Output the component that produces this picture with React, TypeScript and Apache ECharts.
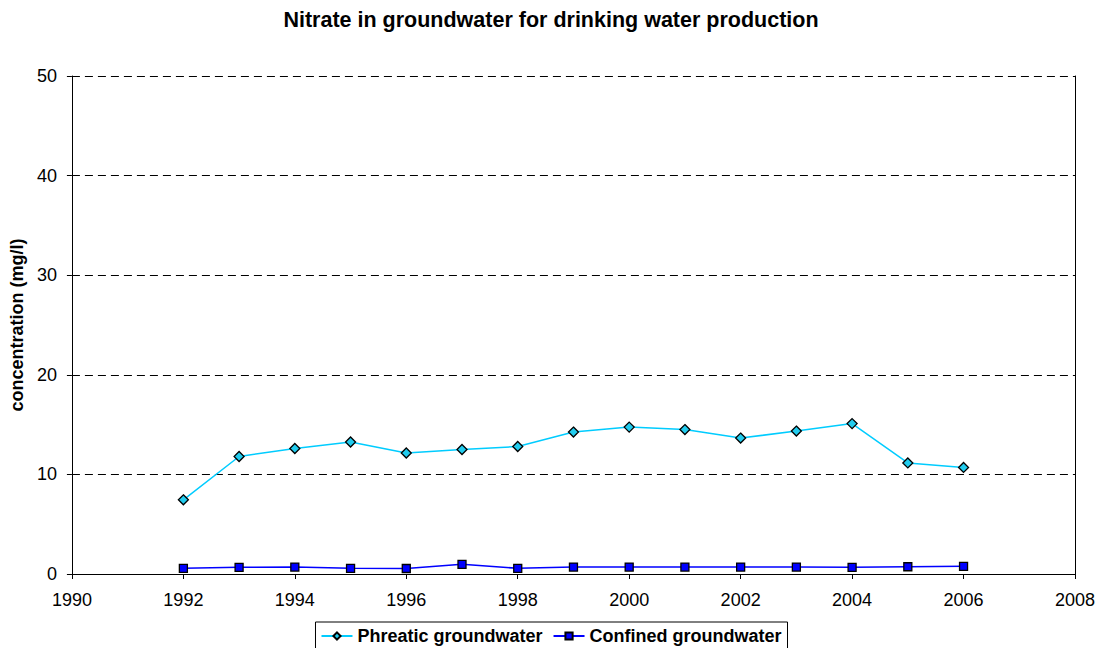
import React, { useEffect, useRef } from "react";
import * as echarts from "echarts";

const years = [1992, 1993, 1994, 1995, 1996, 1997, 1998, 1999, 2000, 2001, 2002, 2003, 2004, 2005, 2006];
const phreatic = [7.45, 11.8, 12.6, 13.25, 12.15, 12.5, 12.8, 14.25, 14.75, 14.5, 13.65, 14.35, 15.1, 11.15, 10.7];
const confined = [0.57, 0.67, 0.7, 0.57, 0.55, 0.97, 0.57, 0.7, 0.7, 0.7, 0.7, 0.7, 0.67, 0.73, 0.77];

const FONT = "Liberation Sans, Arial, sans-serif";

export default function App() {
  const ref = useRef<HTMLDivElement>(null);
  useEffect(() => {
    const chart = echarts.init(ref.current!, null, { renderer: "svg" });
    chart.setOption({
      animation: false,
      backgroundColor: "#ffffff",
      title: {
        text: "Nitrate in groundwater for drinking water production",
        left: "center",
        top: 9,
        padding: 0,
        textStyle: { fontFamily: FONT, fontSize: 21.5, fontWeight: "bold", color: "#000" },
      },
      grid: { left: 71, right: 27, top: 76, bottom: 74 },
      legend: {
        top: 622,
        left: "center",
        padding: [5, 6, 5, 5],
        borderColor: "#000",
        borderWidth: 1,
        itemGap: 10,
        itemWidth: 31,
        itemHeight: 9,
        textStyle: { fontFamily: FONT, fontSize: 18, fontWeight: "bold", color: "#000" },
        data: ["Phreatic groundwater", "Confined groundwater"],
      },
      xAxis: {
        type: "value",
        min: 1990,
        max: 2008,
        interval: 2,
        axisLine: { lineStyle: { color: "#000", width: 1 } },
        axisTick: { show: true, length: 5, inside: false, lineStyle: { color: "#000" } },
        axisLabel: {
          color: "#000",
          fontFamily: FONT,
          fontSize: 18,
          margin: 17,
          formatter: (v: number) => String(v),
        },
        splitLine: { show: false },
      },
      yAxis: [
        {
          type: "value",
          min: 0,
          max: 50,
          interval: 10,
          name: "concentration (mg/l)",
          nameLocation: "middle",
          nameGap: 42,
          nameTextStyle: { fontFamily: FONT, fontSize: 18, fontWeight: "bold", color: "#000" },
          axisLine: { show: true, lineStyle: { color: "#000", width: 1 } },
          axisTick: { show: true, length: 5, lineStyle: { color: "#000" } },
          axisLabel: { color: "#000", fontFamily: FONT, fontSize: 18, margin: 15 },
          splitLine: { show: true, lineStyle: { color: "#000", type: [8, 5], width: 1 } },
        },
        {
          type: "value",
          min: 0,
          max: 50,
          interval: 10,
          position: "right",
          axisLine: { show: true, lineStyle: { color: "#000", width: 1 } },
          axisTick: { show: false },
          axisLabel: { show: false },
          splitLine: { show: false },
        },
      ],
      series: [
        {
          name: "Phreatic groundwater",
          type: "line",
          data: years.map((y, i) => [y, phreatic[i]]),
          symbol: "diamond",
          symbolSize: 10,
          lineStyle: { color: "#00CCFF", width: 1.5 },
          itemStyle: { color: "#22CCEE", borderColor: "#000", borderWidth: 1.3 },
        },
        {
          name: "Confined groundwater",
          type: "line",
          data: years.map((y, i) => [y, confined[i]]),
          symbol: "rect",
          symbolSize: 8,
          lineStyle: { color: "#0000FF", width: 1.5 },
          itemStyle: { color: "#0000FF", borderColor: "#000", borderWidth: 1.3 },
        },
      ],
    });
    return () => chart.dispose();
  }, []);
  return <div ref={ref} style={{ position: "absolute", left: 0, top: 0, width: 1102, height: 648 }} />;
}
